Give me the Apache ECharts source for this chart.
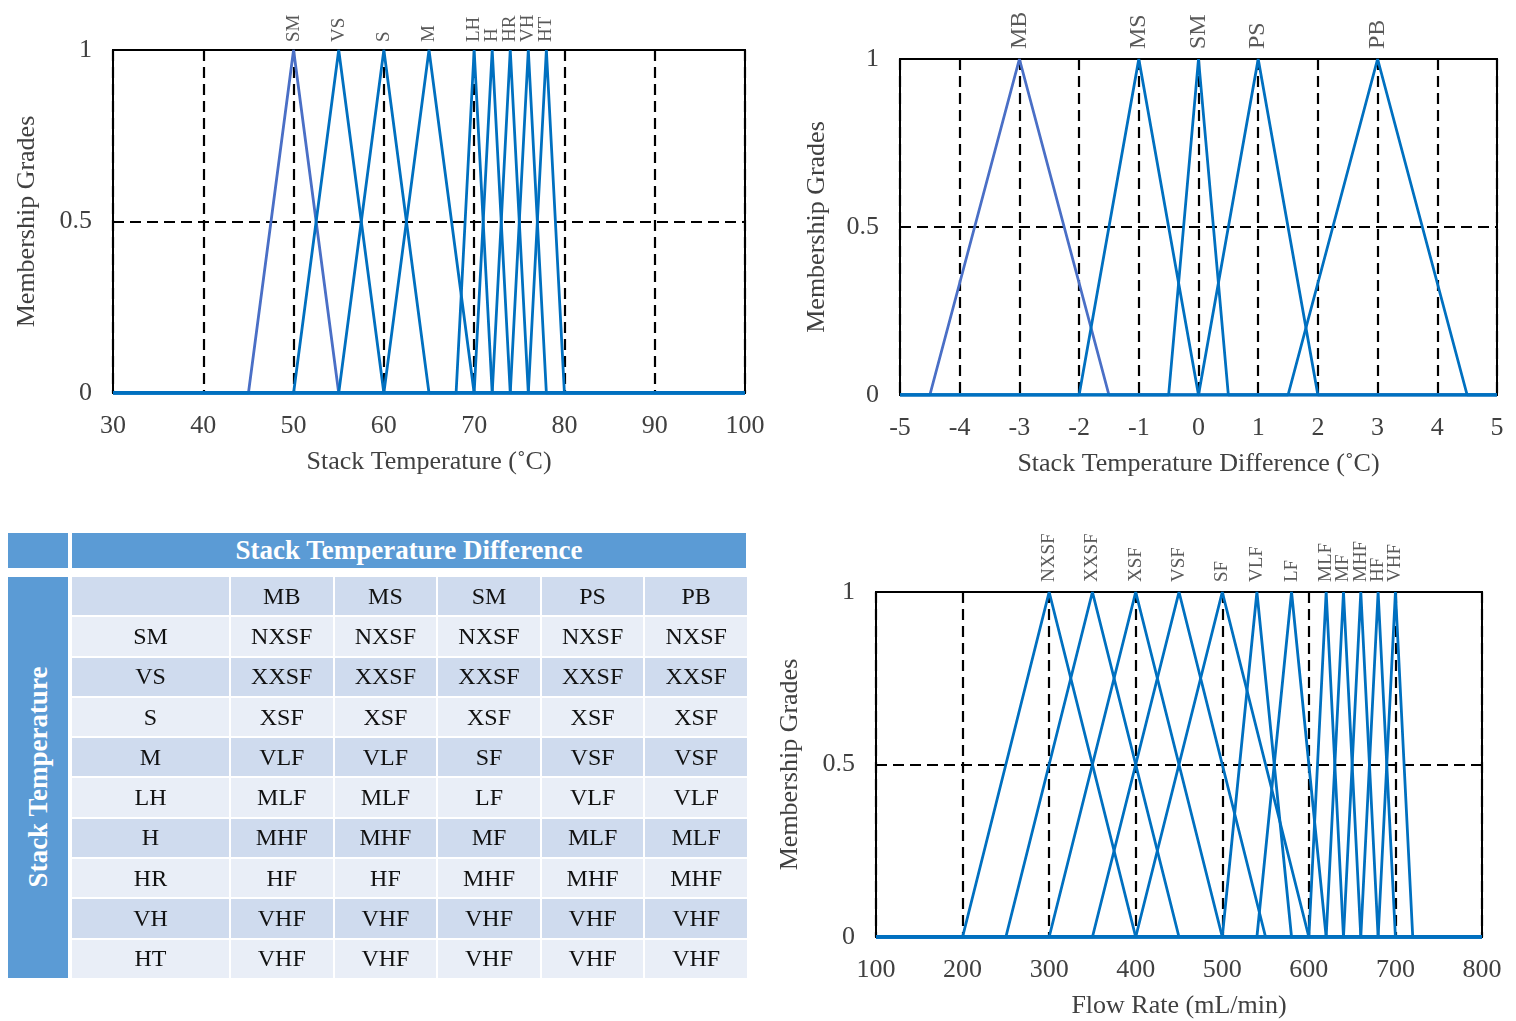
<!DOCTYPE html>
<html>
<head>
<meta charset="utf-8">
<title>Fuzzy membership functions</title>
<script src="https://cdn.jsdelivr.net/npm/echarts@6/dist/echarts.min.js"></script>
<style>
    body { margin: 0; background: #fff; }
    #wrap { position: relative; width: 1516px; height: 1021px; font-family: 'Liberation Serif', serif; }
    #main { position: absolute; left: 0; top: 0; width: 1516px; height: 1021px; }
    .blue { position: absolute; background: #5B9BD5; color: #fff; font-weight: bold; font-size: 27px; }
    #rules { position: absolute; left: 70px; top: 575px; border-collapse: separate; border-spacing: 2px; font-size: 24px; color: #111; }
    #rules td { padding: 0; text-align: center; vertical-align: middle; }
    #rules tr { height: 38.3px; }
    .dark td { background: #CFDBEE; }
    .light td { background: #E9EEF7; }
</style>
</head>
<body>
<div id="wrap">
    <div id="main"></div>
    <div class="blue" style="left:8px;top:533px;width:60px;height:35px;"></div>
    <div class="blue" style="left:72px;top:533px;width:674px;height:35px;line-height:35px;text-align:center;">Stack Temperature Difference</div>
    <div class="blue" style="left:8px;top:577px;width:60px;height:401px;">
        <div style="position:absolute;left:30px;top:200px;transform:translate(-50%,-50%) rotate(-90deg);white-space:nowrap;">Stack Temperature</div>
    </div>
    <table id="rules"></table>
</div>
<script>
    // membership functions: [left foot, peak, right foot]
    var tempNames = ['SM', 'VS', 'S', 'M', 'LH', 'H', 'HR', 'VH', 'HT'];
    var tempMF = [[45, 50, 55], [50, 55, 60], [55, 60, 65], [60, 65, 70], [68, 70, 72],
                  [70, 72, 74], [72, 74, 76], [74, 76, 78], [76, 78, 80]];

    var diffNames = ['MB', 'MS', 'SM', 'PS', 'PB'];
    var diffMF = [[-4.5, -3, -1.5], [-2, -1, 0], [-0.5, 0, 0.5], [0, 1, 2], [1.5, 3, 4.5]];

    var flowNames = ['NXSF', 'XXSF', 'XSF', 'VSF', 'SF', 'VLF', 'LF', 'MLF', 'MF', 'MHF', 'HF', 'VHF'];
    var flowMF = [[200, 300, 400], [250, 350, 450], [300, 400, 500], [350, 450, 550], [400, 500, 600],
                  [500, 540, 580], [540, 580, 620], [600, 620, 640], [620, 640, 660], [640, 660, 680],
                  [660, 680, 700], [680, 700, 720]];

    // rule table
    var rowHeads = ['SM', 'VS', 'S', 'M', 'LH', 'H', 'HR', 'VH', 'HT'];
    var colHeads = ['MB', 'MS', 'SM', 'PS', 'PB'];
    var rules = [
        ['NXSF', 'NXSF', 'NXSF', 'NXSF', 'NXSF'],
        ['XXSF', 'XXSF', 'XXSF', 'XXSF', 'XXSF'],
        ['XSF', 'XSF', 'XSF', 'XSF', 'XSF'],
        ['VLF', 'VLF', 'SF', 'VSF', 'VSF'],
        ['MLF', 'MLF', 'LF', 'VLF', 'VLF'],
        ['MHF', 'MHF', 'MF', 'MLF', 'MLF'],
        ['HF', 'HF', 'MHF', 'MHF', 'MHF'],
        ['VHF', 'VHF', 'VHF', 'VHF', 'VHF'],
        ['VHF', 'VHF', 'VHF', 'VHF', 'VHF']
    ];

    var html = '<tr class="dark"><td style="width:157px"></td>';
    colHeads.forEach(function (c) { html += '<td style="width:101.6px">' + c + '</td>'; });
    html += '</tr>';
    rules.forEach(function (r, i) {
        html += '<tr class="' + (i % 2 === 0 ? 'light' : 'dark') + '"><td>' + rowHeads[i] + '</td>';
        r.forEach(function (v) { html += '<td>' + v + '</td>'; });
        html += '</tr>';
    });
    document.getElementById('rules').innerHTML = html;

    var FONT = 'Liberation Serif';
    var TXT = '#404040';
    var dash = { color: '#000', type: [11, 6], width: 2.2 };

    function makeSeries(names, mfs, lo, hi, idx, fontSize, dist, firstColor) {
        return mfs.map(function (m, i) {
            return {
                name: names[i],
                type: 'line',
                xAxisIndex: idx,
                yAxisIndex: idx,
                symbol: 'circle',
                symbolSize: 0,
                showSymbol: true,
                silent: true,
                lineStyle: { width: 2.8 },
                color: (i === 0 && firstColor) ? firstColor : '#0070C0',
                data: [
                    [lo, 0], [m[0], 0],
                    {
                        value: [m[1], 1],
                        label: {
                            show: true, formatter: names[i], position: 'top', distance: dist,
                            rotate: 90, align: 'left', verticalAlign: 'middle',
                            fontFamily: FONT, fontSize: fontSize, color: '#595959'
                        }
                    },
                    [m[2], 0], [hi, 0]
                ]
            };
        });
    }

    function xAx(idx, min, max, step, name) {
        return {
            type: 'value', gridIndex: idx, min: min, max: max, interval: step,
            name: name, nameLocation: 'middle', nameGap: 56,
            nameTextStyle: { fontFamily: FONT, fontSize: 26, color: TXT },
            axisLine: { show: false }, axisTick: { show: false },
            axisLabel: { margin: 20, fontFamily: FONT, fontSize: 26, color: TXT },
            splitLine: { show: true, lineStyle: dash }
        };
    }

    function yAx(idx, gap) {
        return {
            type: 'value', gridIndex: idx, min: 0, max: 1, interval: 0.5,
            name: 'Membership Grades', nameLocation: 'middle', nameGap: gap,
            nameTextStyle: { fontFamily: FONT, fontSize: 26, color: TXT },
            axisLine: { show: false }, axisTick: { show: false },
            axisLabel: { margin: 21, fontFamily: FONT, fontSize: 26, color: TXT },
            splitLine: { show: true, lineStyle: dash }
        };
    }

    var myChart = echarts.init(document.getElementById('main'));
    var option = {
        animation: false,
        grid: [
            { left: 113, top: 50, width: 632, height: 343, show: true, borderColor: '#000', borderWidth: 2 },
            { left: 900, top: 59, width: 597, height: 336, show: true, borderColor: '#000', borderWidth: 2 },
            { left: 876, top: 592, width: 606, height: 345, show: true, borderColor: '#000', borderWidth: 2 }
        ],
        xAxis: [
            xAx(0, 30, 100, 10, 'Stack Temperature (˚C)'),
            xAx(1, -5, 5, 1, 'Stack Temperature Difference (˚C)'),
            xAx(2, 100, 800, 100, 'Flow Rate (mL/min)')
        ],
        yAxis: [yAx(0, 73), yAx(1, 70), yAx(2, 73)],
        series: [].concat(
            makeSeries(tempNames, tempMF, 30, 100, 0, 19, 8, '#4A6FC6'),
            makeSeries(diffNames, diffMF, -5, 5, 1, 24, 10, '#4A6FC6'),
            makeSeries(flowNames, flowMF, 100, 800, 2, 19, 10, null)
        )
    };
    myChart.setOption(option);
</script>
</body>
</html>
